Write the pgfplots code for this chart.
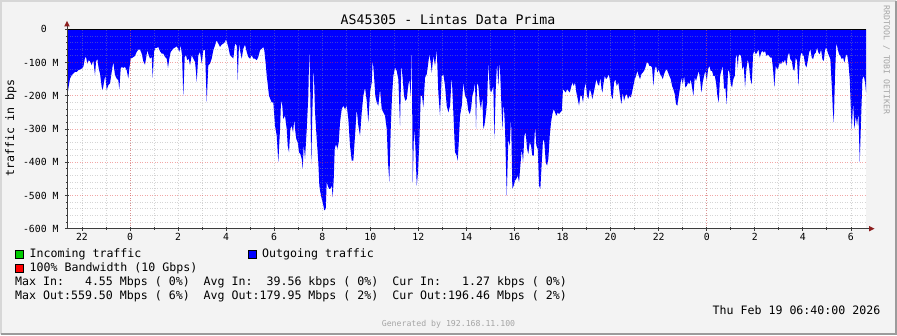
\documentclass[border=0pt]{standalone}
\usepackage{pgfplots}
\pgfplotsset{compat=1.18}
\usepackage{pgfplotstable}
\usepackage{fontspec}
\setmainfont{DejaVu Sans Mono}
\definecolor{bgc}{RGB}{243,243,243}
\definecolor{gridc}{RGB}{150,150,150}
\definecolor{mgridc}{RGB}{225,60,60}
\definecolor{axc}{RGB}{60,60,60}
\definecolor{arrc}{RGB}{140,30,30}
\definecolor{outc}{RGB}{0,0,255}
\definecolor{inc}{RGB}{0,204,0}
\definecolor{wmc}{RGB}{165,165,165}
\definecolor{lightb}{RGB}{215,215,215}
\definecolor{darkb}{RGB}{155,155,155}
\newcommand\legfont{\fontsize{11.6pt}{13pt}\selectfont}
\newcommand\axfont{\fontsize{9.8pt}{11pt}\selectfont}
\newcommand\titfont{\fontsize{13.2pt}{15pt}\selectfont}
\newcommand\wmfont{\fontsize{8.2pt}{9pt}\selectfont}

% px = pixel column of the time axis (130 = 00:00, 24.028 px per hour), out = outgoing Mbps
\pgfplotstableread{
px out
67 195
68 185
70 148
71.7 138
73.3 133
75 128
76.7 128
78.3 123
80 121
81.7 118
83.3 113
85 86
86 83
87.3 103
88.7 93
90 96
91.7 108
93.3 93
95 138
96 98
97.3 88
98.7 118
100 133
101.7 173
102.7 183
104 158
105.3 138
106.7 183
108.3 168
110 163
111.7 128
113.3 98
115 138
116.7 148
118.3 153
119.3 181
120.7 118
121.7 113
123.3 116
125 113
126.7 123
128.3 148
129.3 118
130.7 88
132.7 85
135 80
136.7 68
138.3 61
140 61
141.7 73
143.3 96
145 106
146 88
147.3 63
148.7 78
150 88
151.7 83
152.7 146
154 68
155.3 56
156.7 56
158.3 53
160 66
161.7 73
163.3 73
165 83
166.7 88
168 116
169.3 88
170.7 68
172 63
173.3 58
175 55
176.7 51
178.3 60
179.3 68
180.7 48
182 78
183.3 200
184.7 83
186 78
187.3 93
188.7 88
190 108
191.7 78
193.3 88
195 98
196 128
196.7 158
198.3 78
200 68
201.7 103
203.3 63
205 63
206.7 218
208.3 108
210 103
211.7 88
213.3 63
215 48
216.7 33
218.3 43
220 53
221.7 46
223.3 43
225 38
226 30
227.3 43
228.3 53
230 78
231.7 83
233.3 88
235 43
236.7 48
237.7 153
239 43
240.3 68
241.7 88
243.3 58
245 46
246.7 68
248.3 83
250 88
251.7 78
253.3 88
255 88
256.7 93
258.3 83
260 63
261.7 58
263.3 53
264.3 63
265.7 103
266.7 140
267.7 165
269 200
270.3 210
271.7 220
273.3 220
275 290
276.7 320
278.3 400
280 300
281 215
282.3 230
283.3 270
285 260
286.7 300
287.7 350
289 370
290.3 300
291.7 290
293 310
294.3 270
295 300
296.3 330
297.7 340
299 370
300.3 375
301.7 390
302.7 420
303.7 345
305 390
306.7 300
308.3 200
309.3 50
310.3 200
311.3 405
312.3 250
313.7 110
315 250
316.7 330
318.3 400
319.3 470
320.3 490
321.7 510
323 525
324.3 545
325.7 540
326.7 460
327.7 470
329 480
330.3 480
331.7 470
332.7 505
333.7 450
334.7 360
336 345
337.3 360
338.7 340
340 280
341.7 240
343.3 230
345 240
346.7 230
348.3 270
350 350
351.7 395
353.3 395
355 320
356.7 240
358.3 290
360 320
361.7 250
363.3 200
365 175
366.7 215
368.3 280
370 190
371.7 160
372.7 90
374 140
375.3 200
376.7 220
378.3 230
380 180
381.7 240
383.3 250
385 260
386.7 300
388 400
389.3 460
390.7 300
392 200
393.3 140
395 115
396.7 125
398.3 150
400 290
401.3 105
402.7 150
404 200
405.3 215
406.7 210
408 175
409.3 150
410.7 200
411.7 40
412.7 460
414 300
415.3 350
416.7 470
418 430
419.3 340
420.7 200
422 200
423.3 235
425 145
426.7 135
428.3 100
429.3 75
430.7 100
431.7 130
433.3 80
435 110
436.7 60
438.3 190
440 260
441.7 140
443.3 135
445 170
446.7 230
448.3 250
450 230
451.7 140
453.3 250
455 370
456.7 380
457.7 395
458.7 340
460 260
461.7 230
463.3 160
465 200
466.7 210
468.3 245
469.7 255
471 240
472.3 200
473.7 185
475 160
476 300
477 160
478.3 170
479.7 220
481 240
482.3 200
483.3 300
484.3 290
485.7 260
487 220
488.3 100
489.7 180
491 190
492.3 180
493.3 170
494.3 330
495.7 180
497 100
498.3 170
499.7 95
501 200
502.3 300
503.7 220
505 300
506.7 500
508.3 330
509.7 350
511 260
512.3 480
513.7 470
515 455
516.3 450
517.7 440
519 460
520.3 410
521.7 360
523 400
524.3 320
525.7 310
527 360
528.3 375
529.7 340
531 350
532.3 380
533.7 380
535 290
536.3 350
537.7 360
539 470
540.3 480
541.7 400
543 330
544.3 340
545.7 400
547 410
548.3 390
549.7 320
551 280
552.3 255
553.7 240
555 250
556.3 260
557.7 250
559 255
560.3 250
561.7 245
563 180
564.3 185
565.7 190
567 180
568.3 185
569.7 190
571 175
572.3 160
573.7 170
575 160
576.3 190
577.7 210
579 230
580.3 200
581.7 200
583 220
584.3 180
585.7 160
587 200
588.3 210
589.7 180
591 190
592.3 210
593.7 190
595 170
596.3 150
597.7 165
599 170
600.3 145
601.5 180
602.5 190
603.3 165
604.7 140
606 150
607.3 145
608.7 135
610 155
611.3 200
612.7 210
614 160
615.3 150
616.7 170
618.3 160
620 200
621.3 225
622.7 190
624 215
625.3 200
626.7 195
628 210
629.3 200
630.7 205
632 190
633.3 170
634.7 150
636 140
637.3 125
638.7 140
640 150
641.3 135
642.7 130
644 125
645.3 115
646.7 100
648 100
649.3 110
650.7 110
652 115
653.3 170
654.7 120
656 110
657.3 130
658.7 120
660 135
661.3 140
662.7 150
664 135
665.3 125
666.7 120
668 130
669.3 140
670.7 150
672 170
673.3 180
674.7 195
676 225
677.3 230
678.7 200
680 175
681.3 145
682.7 165
684 140
685.3 175
686.7 170
688 160
689.3 165
690.7 150
692 175
693.3 200
694.7 145
696 155
697.3 140
698.7 125
700 150
701.3 190
702.7 160
704 140
705.3 125
706.7 155
708 120
709.3 110
710.7 125
712 125
713.3 140
714.7 140
716 160
717.3 200
718.7 220
720 140
721.3 125
722.7 110
724 180
725.3 175
726.7 225
728 120
729.3 130
730.7 165
732 175
733.3 150
734.7 140
735.7 85
736.7 75
737.7 115
738.5 80
739.7 75
741 80
742.3 120
743.7 110
745 175
746.3 120
747.7 90
749 110
750.3 150
751.7 165
753 75
754.3 65
755.7 75
757 70
758.3 60
759.7 85
761 70
762.3 65
763.7 70
765 65
766.3 80
767.7 75
769 80
770.3 85
771.7 85
773 120
774.3 175
775.7 110
777 120
778.3 115
779.7 100
781 105
782.3 95
783.7 100
785 90
786.3 110
787.7 80
789 70
790.3 90
791.7 95
793 120
794.3 125
795.7 85
797 95
798.3 170
799.7 95
801 70
802.3 75
803.7 80
805 105
806.3 115
807.7 95
809 70
810.3 60
811.7 85
813 90
814.3 75
815.7 70
817 55
818.3 70
819.7 75
821 60
822.3 90
823.7 95
825 60
826.3 55
827.7 70
829 80
830.3 90
831.7 170
832.7 240
833.7 280
835 130
836.3 40
837.7 60
839 75
840.3 80
841.7 90
843 85
844.3 100
845.7 80
847 75
848.3 100
849.7 150
851 260
851.7 300
853 220
854.3 300
855.7 260
857 290
858.3 250
859.7 400
861 270
862.3 150
863.7 140
865 160
866 190
}\outdata

\begin{document}
\begin{tikzpicture}[x=1pt,y=1pt]
\useasboundingbox (0,0) rectangle (897,335);
\fill[bgc] (0,0) rectangle (897,335);
\draw[lightb, line width=2pt] (1,1) -- (1,334) -- (896,334);
\draw[darkb, line width=2.5pt] (1.25,1.25) -- (895.75,1.25) -- (895.75,334);
\fill[white] (67,106.3) rectangle (866,305.7);
\begin{axis}[
  scale only axis, width=799pt, height=199.4pt,
  at={(67pt,106.3pt)}, anchor=south west,
  xmin=-2.622, xmax=30.628, ymin=-600, ymax=0,
  axis on top, axis line style={draw=none},
  tick pos=left, tick align=center,
  major tick length=4pt, minor tick length=2.5pt,
  tick style={axc, line width=0.8pt},
  xtick={-2,0,...,30},
  xticklabels={22,0,2,4,6,8,10,12,14,16,18,20,22,0,2,4,6},
  minor x tick num=1,
  ytick={-600,-500,...,0},
  yticklabels={-600~M,-500~M,-400~M,-300~M,-200~M,-100~M,0\phantom{~M}},
  minor y tick num=4,
  xmajorgrids, xminorgrids, ymajorgrids, yminorgrids,
  major x grid style={gridc, opacity=.4, line width=0.8pt, dash pattern=on 1pt off 1.5pt},
  minor x grid style={gridc, opacity=.4, line width=0.8pt, dash pattern=on 1pt off 1.5pt},
  minor y grid style={gridc, opacity=.4, line width=0.8pt, dash pattern=on 1pt off 1.5pt},
  major y grid style={mgridc, opacity=.45, line width=0.8pt, dash pattern=on 1pt off 1.5pt},
  extra x ticks={0,24}, extra x tick labels={},
  extra x tick style={major x grid style={mgridc, opacity=.45, line width=0.8pt, dash pattern=on 1pt off 1.5pt}},
  xticklabel style={font=\axfont, yshift=1pt},
  yticklabel style={font=\axfont, xshift=-3pt},
]
\addplot[fill=outc, draw=none] table[x expr={(\thisrow{px}-130)/24.028}, y expr={-\thisrow{out}}]{\outdata} \closedcycle;
\end{axis}
\draw[black, line width=1.6pt] (67,305.5) -- (866,305.5);
\draw[axc, line width=1pt] (67,106.3) -- (870,106.3);
\draw[axc, line width=1pt] (67,106.3) -- (67,309.5);
\fill[arrc] (874.5,106.3) -- (869,109) -- (869,103.6) -- cycle;
\fill[arrc] (67,314) -- (64.2,308.5) -- (69.8,308.5) -- cycle;
% titles
\node[inner sep=0, font=\titfont] at (448,315.5) {AS45305 - Lintas Data Prima};
\node[inner sep=0, font=\legfont, rotate=90] at (11,207) {traffic in bps};
\node[inner sep=0, font=\wmfont, text=wmc, rotate=-90] at (886.5,275) {RRDTOOL / TOBI OETIKER};
% legend
\filldraw[fill=inc, draw=black, line width=0.6pt] (15.5,76.5) rectangle (23.5,84.5);
\node[inner sep=0, anchor=west, font=\legfont] at (29.5,81) {Incoming~traffic};
\filldraw[fill=outc, draw=black, line width=0.6pt] (248.5,76.5) rectangle (256.5,84.5);
\node[inner sep=0, anchor=west, font=\legfont] at (262,81) {Outgoing~traffic};
\filldraw[fill=red, draw=black, line width=0.6pt] (15.5,62.5) rectangle (23.5,70.5);
\node[inner sep=0, anchor=west, font=\legfont] at (29.5,67) {100\%~Bandwidth~(10~Gbps)};
\node[inner sep=0, anchor=west, font=\legfont] at (15,52.5) {Max~In:~~~4.55~Mbps~(~0\%)~~Avg~In:~~39.56~kbps~(~0\%)~~Cur~In:~~~1.27~kbps~(~0\%)};
\node[inner sep=0, anchor=west, font=\legfont] at (15,38.5) {Max~Out:559.50~Mbps~(~6\%)~~Avg~Out:179.95~Mbps~(~2\%)~~Cur~Out:196.46~Mbps~(~2\%)};
\node[inner sep=0, anchor=east, font=\legfont] at (880.5,25) {Thu~Feb~19~06:40:00~2026};
\node[inner sep=0, font=\wmfont, text=wmc] at (448.5,11) {Generated~by~192.168.11.100};
\end{tikzpicture}
\end{document}
